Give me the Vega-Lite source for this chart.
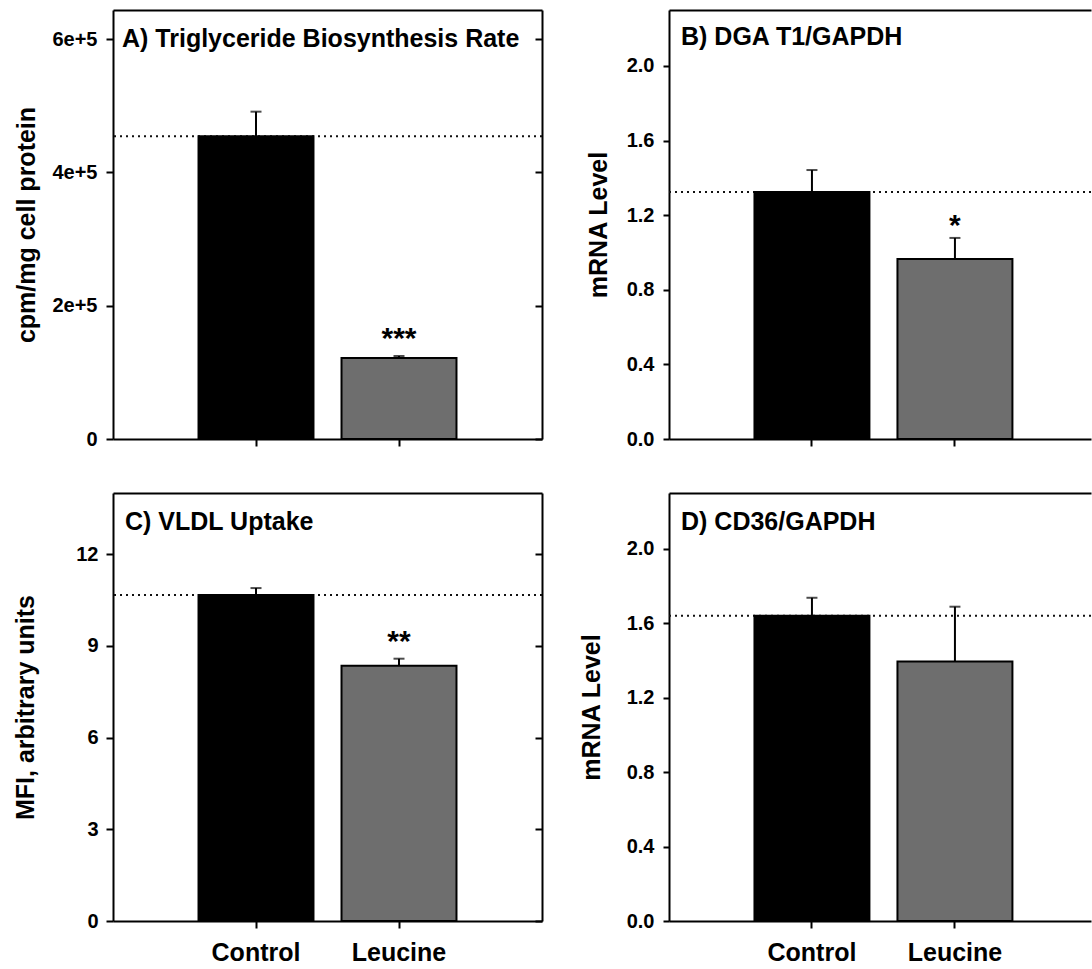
{
  "$schema": "https://vega.github.io/schema/vega-lite/v6.json",
  "background": "white",
  "padding": {"left": 13, "top": 10, "right": 0, "bottom": 0},
  "bounds": "flush",
  "columns": 2,
  "spacing": {"row": 54, "column": 127},
  "config": {
    "font": "Liberation Sans",
    "view": {"stroke": null},
    "axis": {
      "grid": false,
      "domainColor": "black",
      "domainWidth": 2,
      "tickColor": "black",
      "tickWidth": 2,
      "labelFont": "Liberation Sans",
      "labelFontSize": 20,
      "labelFontWeight": "bold",
      "labelColor": "black",
      "titleFont": "Liberation Sans",
      "titleFontSize": 25,
      "titleFontWeight": "bold",
      "titleColor": "black"
    },
    "title": {"font": "Liberation Sans", "fontSize": 25, "fontWeight": "bold", "color": "black", "anchor": "start", "frame": "group"}
  },
  "datasets": {
    "A": [
      {"group": "Control", "mean": 454000, "upper": 491000, "sig": ""},
      {"group": "Leucine", "mean": 121500, "upper": 124500, "sig": "***"}
    ],
    "B": [
      {"group": "Control", "mean": 1.324, "upper": 1.442, "sig": ""},
      {"group": "Leucine", "mean": 0.965, "upper": 1.078, "sig": "*"}
    ],
    "C": [
      {"group": "Control", "mean": 10.66, "upper": 10.89, "sig": ""},
      {"group": "Leucine", "mean": 8.35, "upper": 8.58, "sig": "**"}
    ],
    "D": [
      {"group": "Control", "mean": 1.641, "upper": 1.737, "sig": ""},
      {"group": "Leucine", "mean": 1.394, "upper": 1.689, "sig": ""}
    ]
  },
  "concat": [
    {
      "width": 429, "height": 429,
      "data": {"name": "A"},
      "title": {"text": "A) Triglyceride Biosynthesis Rate", "offset": -42, "dx": 9},
      "resolve": {"axis": {"x": "independent", "y": "independent"}},
      "layer": [
        {
          "mark": {"type": "rule", "strokeDash": [2, 4], "strokeWidth": 2, "color": "#111111"},
          "transform": [{"filter": "datum.group == 'Control'"}],
          "encoding": {
            "y": {"field": "mean", "type": "quantitative", "scale": {"domain": [0, 643500], "nice": false},
              "axis": {"orient": "left", "values": [0, 200000, 400000, 600000], "labelExpr": "datum.value == 0 ? '0' : (datum.value/100000) + 'e+5'", "title": "cpm/mg cell protein", "tickSize": 7, "labelPadding": 9, "titlePadding": 14, "minExtent": 60, "maxExtent": 60}}
          }
        },
        {
          "mark": {"type": "bar", "stroke": "black", "strokeWidth": 2},
          "encoding": {
            "x": {"field": "group", "type": "nominal", "sort": ["Control", "Leucine"], "scale": {"type": "band", "paddingInner": 0.196, "paddingOuter": 0.598},
              "axis": {"orient": "bottom", "title": null, "labels": false, "tickSize": 7, "bandPosition": 0.5}},
            "y": {"field": "mean", "type": "quantitative",
              "axis": {"orient": "right", "values": [0, 200000, 400000, 600000], "labels": false, "tickSize": -7, "title": null}},
            "fill": {"field": "group", "type": "nominal", "scale": {"domain": ["Control", "Leucine"], "range": ["#000000", "#6e6e6e"]}, "legend": null}
          }
        },
        {
          "mark": {"type": "rule", "strokeWidth": 2, "color": "black"},
          "encoding": {
            "x": {"field": "group", "type": "nominal", "sort": ["Control", "Leucine"], "axis": {"orient": "top", "title": null, "labels": false, "ticks": false}},
            "y": {"field": "mean", "type": "quantitative", "axis": null},
            "y2": {"field": "upper"}
          }
        },
        {
          "mark": {"type": "tick", "orient": "horizontal", "size": 11, "thickness": 2, "color": "black"},
          "encoding": {
            "x": {"field": "group", "type": "nominal", "sort": ["Control", "Leucine"], "axis": null},
            "y": {"field": "upper", "type": "quantitative", "axis": null}
          }
        },
        {
          "mark": {"type": "text", "fontSize": 30, "fontWeight": "bold", "baseline": "alphabetic", "dy": -8, "color": "black"},
          "encoding": {
            "x": {"field": "group", "type": "nominal", "sort": ["Control", "Leucine"], "axis": null},
            "y": {"field": "upper", "type": "quantitative", "axis": null},
            "text": {"field": "sig"}
          }
        }
      ]
    },
    {
      "width": 422, "height": 429,
      "data": {"name": "B"},
      "title": {"text": "B) DGA T1/GAPDH", "offset": -40, "dx": 12},
      "resolve": {"axis": {"x": "independent", "y": "independent"}},
      "layer": [
        {
          "mark": {"type": "rule", "strokeDash": [2, 4], "strokeWidth": 2, "color": "#111111"},
          "transform": [{"filter": "datum.group == 'Control'"}],
          "encoding": {
            "y": {"field": "mean", "type": "quantitative", "scale": {"domain": [0, 2.3], "nice": false},
              "axis": {"orient": "left", "values": [0, 0.4, 0.8, 1.2, 1.6, 2.0], "format": ".1f", "title": "mRNA Level", "tickSize": 6, "labelPadding": 9, "titlePadding": 13, "minExtent": 45, "maxExtent": 45}}
          }
        },
        {
          "mark": {"type": "bar", "stroke": "black", "strokeWidth": 2},
          "encoding": {
            "x": {"field": "group", "type": "nominal", "sort": ["Control", "Leucine"], "scale": {"type": "band", "paddingInner": 0.196, "paddingOuter": 0.5736, "align": 0.521},
              "axis": {"orient": "bottom", "title": null, "labels": false, "tickSize": 7, "bandPosition": 0.5}},
            "y": {"field": "mean", "type": "quantitative", "axis": null},
            "fill": {"field": "group", "type": "nominal", "scale": {"domain": ["Control", "Leucine"], "range": ["#000000", "#6e6e6e"]}, "legend": null}
          }
        },
        {
          "mark": {"type": "rule", "strokeWidth": 2, "color": "black"},
          "encoding": {
            "x": {"field": "group", "type": "nominal", "sort": ["Control", "Leucine"], "axis": {"orient": "top", "title": null, "labels": false, "ticks": false}},
            "y": {"field": "mean", "type": "quantitative", "axis": null},
            "y2": {"field": "upper"}
          }
        },
        {
          "mark": {"type": "tick", "orient": "horizontal", "size": 11, "thickness": 2, "color": "black"},
          "encoding": {
            "x": {"field": "group", "type": "nominal", "sort": ["Control", "Leucine"], "axis": null},
            "y": {"field": "upper", "type": "quantitative", "axis": null}
          }
        },
        {
          "mark": {"type": "text", "fontSize": 30, "fontWeight": "bold", "baseline": "alphabetic", "dy": -3, "color": "black"},
          "encoding": {
            "x": {"field": "group", "type": "nominal", "sort": ["Control", "Leucine"], "axis": null},
            "y": {"field": "upper", "type": "quantitative", "axis": null},
            "text": {"field": "sig"}
          }
        }
      ]
    },
    {
      "width": 429, "height": 428,
      "data": {"name": "C"},
      "title": {"text": "C) VLDL Uptake", "offset": -42, "dx": 12},
      "resolve": {"axis": {"x": "independent", "y": "independent"}},
      "layer": [
        {
          "mark": {"type": "rule", "strokeDash": [2, 4], "strokeWidth": 2, "color": "#111111"},
          "transform": [{"filter": "datum.group == 'Control'"}],
          "encoding": {
            "y": {"field": "mean", "type": "quantitative", "scale": {"domain": [0, 14], "nice": false},
              "axis": {"orient": "left", "values": [0, 3, 6, 9, 12], "title": "MFI, arbitrary units", "tickSize": 7, "labelPadding": 8, "titlePadding": 15, "minExtent": 60, "maxExtent": 60}}
          }
        },
        {
          "mark": {"type": "bar", "stroke": "black", "strokeWidth": 2},
          "encoding": {
            "x": {"field": "group", "type": "nominal", "sort": ["Control", "Leucine"], "scale": {"type": "band", "paddingInner": 0.196, "paddingOuter": 0.598},
              "axis": {"orient": "bottom", "title": null, "labels": true, "labelAngle": 0, "labelFontSize": 25, "labelPadding": 12, "tickSize": 7, "bandPosition": 0.5}},
            "y": {"field": "mean", "type": "quantitative",
              "axis": {"orient": "right", "values": [0, 3, 6, 9, 12], "labels": false, "tickSize": -7, "title": null}},
            "fill": {"field": "group", "type": "nominal", "scale": {"domain": ["Control", "Leucine"], "range": ["#000000", "#6e6e6e"]}, "legend": null}
          }
        },
        {
          "mark": {"type": "rule", "strokeWidth": 2, "color": "black"},
          "encoding": {
            "x": {"field": "group", "type": "nominal", "sort": ["Control", "Leucine"], "axis": {"orient": "top", "title": null, "labels": false, "ticks": false}},
            "y": {"field": "mean", "type": "quantitative", "axis": null},
            "y2": {"field": "upper"}
          }
        },
        {
          "mark": {"type": "tick", "orient": "horizontal", "size": 11, "thickness": 2, "color": "black"},
          "encoding": {
            "x": {"field": "group", "type": "nominal", "sort": ["Control", "Leucine"], "axis": null},
            "y": {"field": "upper", "type": "quantitative", "axis": null}
          }
        },
        {
          "mark": {"type": "text", "fontSize": 30, "fontWeight": "bold", "baseline": "alphabetic", "dy": -8, "color": "black"},
          "encoding": {
            "x": {"field": "group", "type": "nominal", "sort": ["Control", "Leucine"], "axis": null},
            "y": {"field": "upper", "type": "quantitative", "axis": null},
            "text": {"field": "sig"}
          }
        }
      ]
    },
    {
      "width": 422, "height": 428,
      "data": {"name": "D"},
      "title": {"text": "D) CD36/GAPDH", "offset": -42, "dx": 12},
      "resolve": {"axis": {"x": "independent", "y": "independent"}},
      "layer": [
        {
          "mark": {"type": "rule", "strokeDash": [2, 4], "strokeWidth": 2, "color": "#111111"},
          "transform": [{"filter": "datum.group == 'Control'"}],
          "encoding": {
            "y": {"field": "mean", "type": "quantitative", "scale": {"domain": [0, 2.3], "nice": false},
              "axis": {"orient": "left", "values": [0, 0.4, 0.8, 1.2, 1.6, 2.0], "format": ".1f", "title": "mRNA Level", "tickSize": 6, "labelPadding": 9, "titlePadding": 20, "minExtent": 45, "maxExtent": 45}}
          }
        },
        {
          "mark": {"type": "bar", "stroke": "black", "strokeWidth": 2},
          "encoding": {
            "x": {"field": "group", "type": "nominal", "sort": ["Control", "Leucine"], "scale": {"type": "band", "paddingInner": 0.196, "paddingOuter": 0.5736, "align": 0.521},
              "axis": {"orient": "bottom", "title": null, "labels": true, "labelAngle": 0, "labelFontSize": 25, "labelPadding": 12, "tickSize": 7, "bandPosition": 0.5}},
            "y": {"field": "mean", "type": "quantitative", "axis": null},
            "fill": {"field": "group", "type": "nominal", "scale": {"domain": ["Control", "Leucine"], "range": ["#000000", "#6e6e6e"]}, "legend": null}
          }
        },
        {
          "mark": {"type": "rule", "strokeWidth": 2, "color": "black"},
          "encoding": {
            "x": {"field": "group", "type": "nominal", "sort": ["Control", "Leucine"], "axis": {"orient": "top", "title": null, "labels": false, "ticks": false}},
            "y": {"field": "mean", "type": "quantitative", "axis": null},
            "y2": {"field": "upper"}
          }
        },
        {
          "mark": {"type": "tick", "orient": "horizontal", "size": 11, "thickness": 2, "color": "black"},
          "encoding": {
            "x": {"field": "group", "type": "nominal", "sort": ["Control", "Leucine"], "axis": null},
            "y": {"field": "upper", "type": "quantitative", "axis": null}
          }
        }
      ]
    }
  ]
}
